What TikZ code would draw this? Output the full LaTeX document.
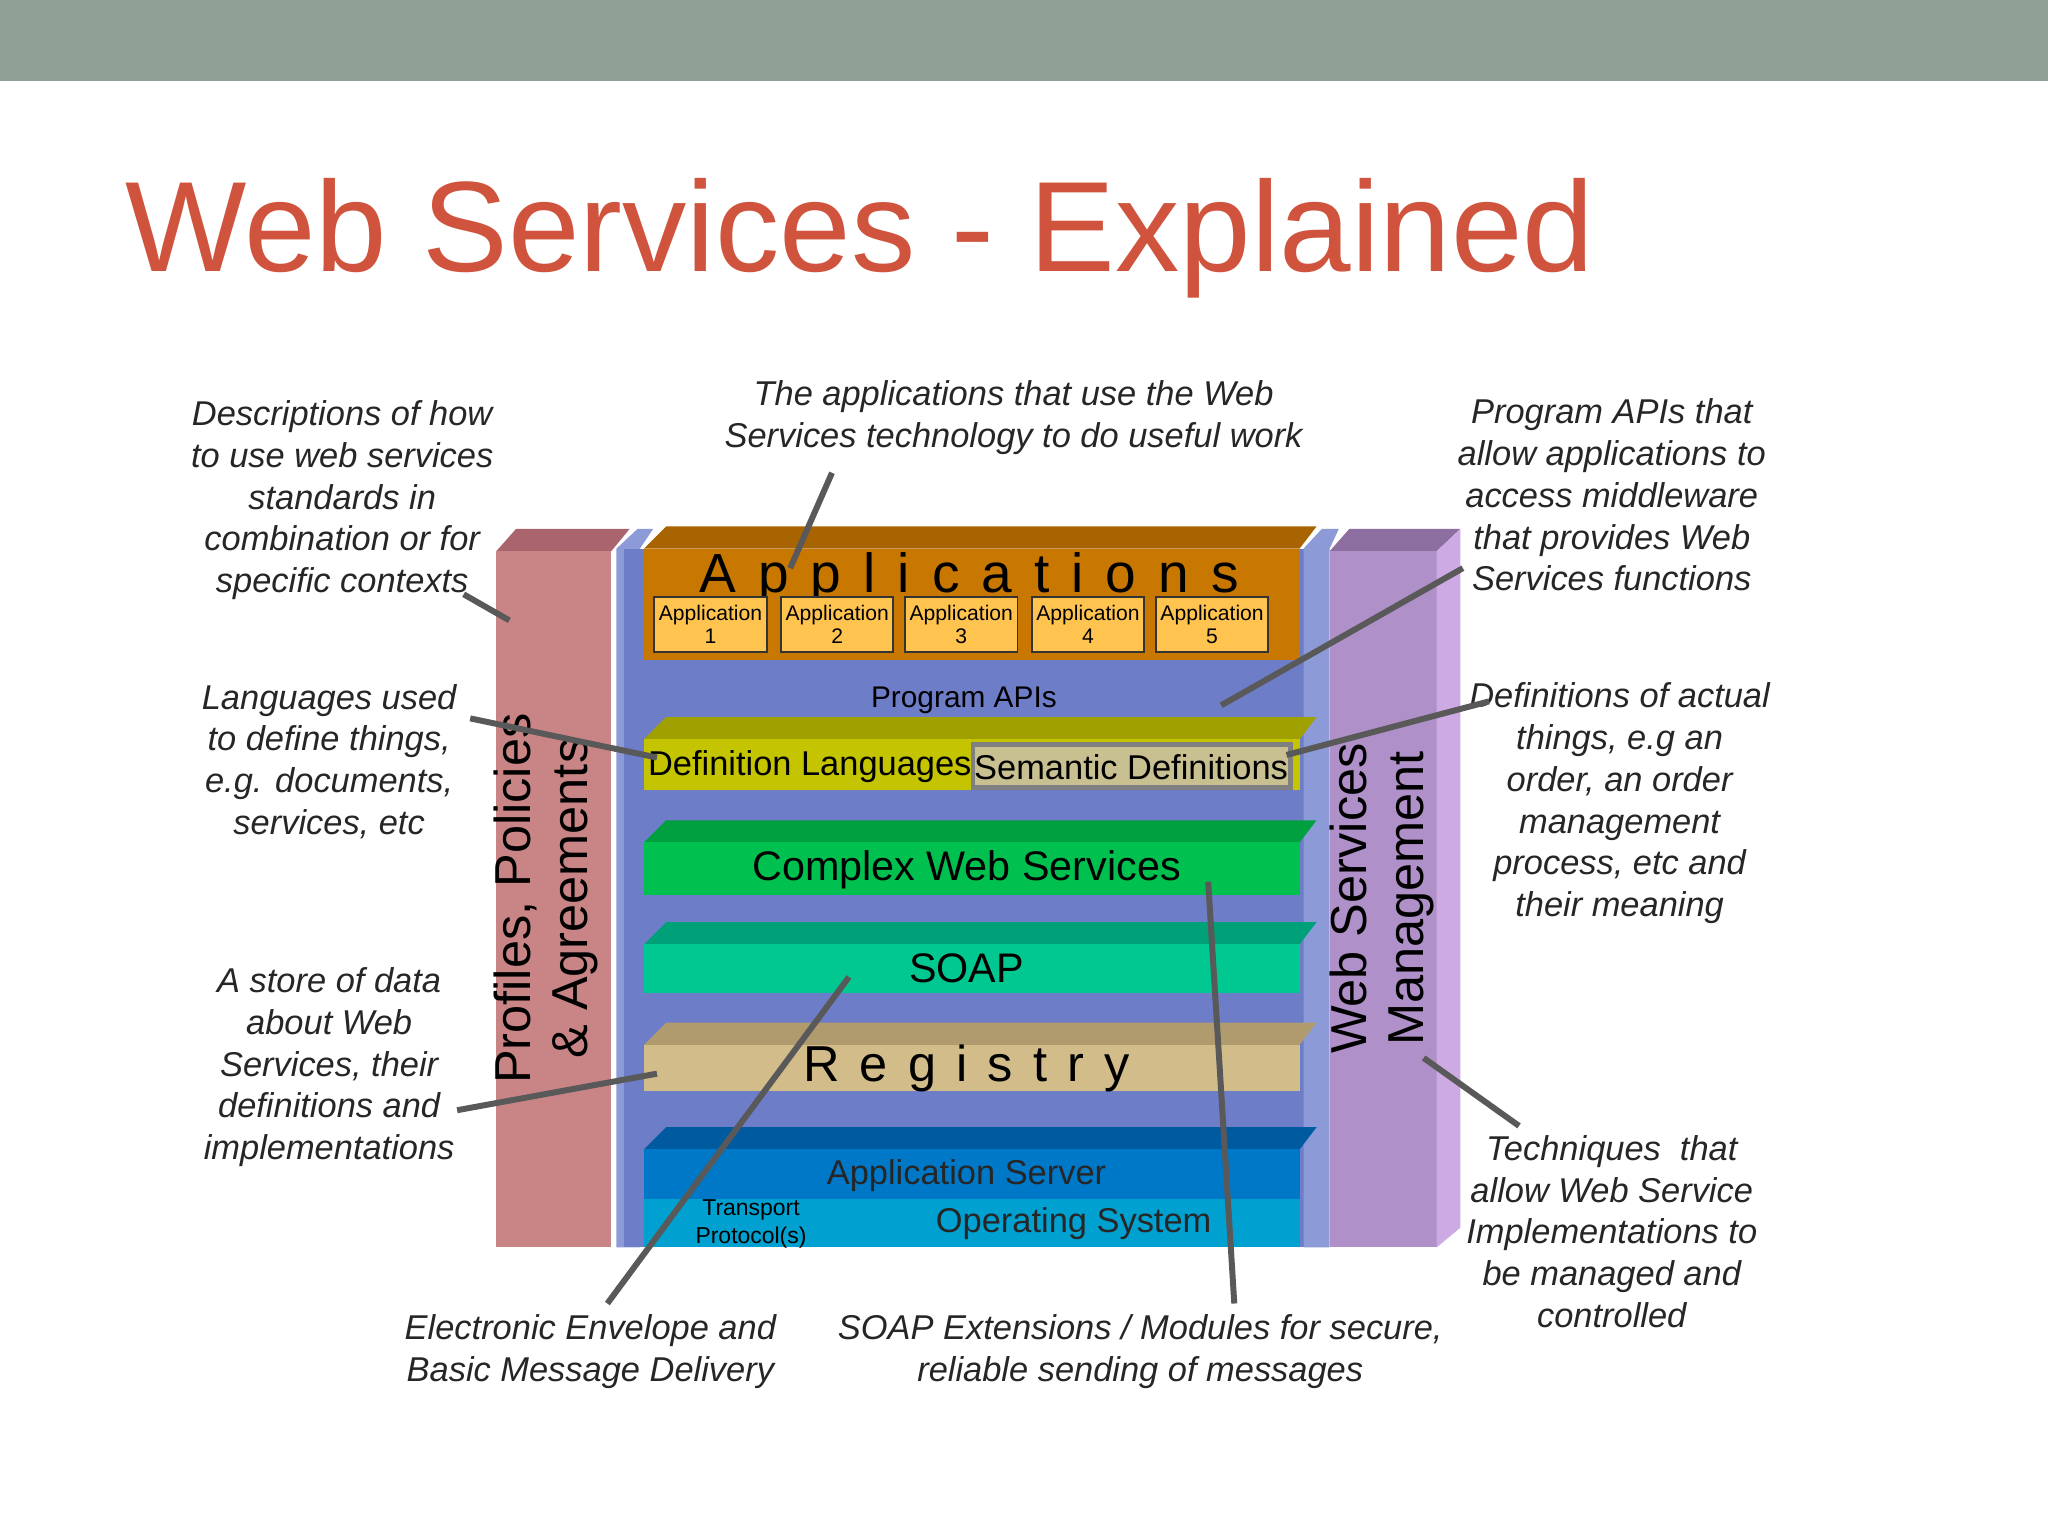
\documentclass[tikz,border=0pt]{standalone}
\usepackage{fontspec}
\setmainfont{Liberation Sans}
\newfontfamily\spaced[LetterSpace=40]{Liberation Sans}
\usetikzlibrary{positioning}
\definecolor{bandgray}{HTML}{8FA197}
\definecolor{titlered}{HTML}{D0543D}
\definecolor{pinktop}{HTML}{AA646E}
\definecolor{pink}{HTML}{C98585}
\definecolor{periwinkle}{HTML}{8C9BD8}
\definecolor{stackblue}{HTML}{6E7DC8}
\definecolor{purpletop}{HTML}{8C6EA0}
\definecolor{purple}{HTML}{B090C8}
\definecolor{lilac}{HTML}{CDAAE4}
\definecolor{appfront}{HTML}{C87800}
\definecolor{apptop}{HTML}{A86400}
\definecolor{deffront}{HTML}{C4C400}
\definecolor{deftop}{HTML}{A0A000}
\definecolor{cwsfront}{HTML}{00C050}
\definecolor{cwstop}{HTML}{00A040}
\definecolor{soapfront}{HTML}{00C890}
\definecolor{soaptop}{HTML}{00A078}
\definecolor{regfront}{HTML}{D2BC8A}
\definecolor{regtop}{HTML}{AF9B6E}
\definecolor{srvfront}{HTML}{0078C8}
\definecolor{srvtop}{HTML}{005AA0}
\definecolor{osfront}{HTML}{00A0D0}
\definecolor{semfill}{HTML}{C8C090}
\definecolor{appfill}{HTML}{FFC450}
\tikzstyle{note} = [align=center, font=\itshape\fontsize{7.5}{9.1}\selectfont, text=black!85]
\tikzstyle{callout} = [draw=black!65, line width=1.3pt]
\tikzstyle{appbox} = [draw=black!80, fill=appfill, minimum width=8.6mm, minimum height=4.2mm, inner sep=0pt, align=center, font=\fontsize{4.6}{5}\selectfont]
\tikzstyle{layertext} = [font=\fontsize{9}{10}\selectfont]

\begin{document}
\begin{tikzpicture}[x=0.1mm, y=-0.1mm]
        \useasboundingbox (0,0) rectangle (1568,1176);
        \fill[white] (0,0) rectangle (1568,1176);
        \fill[bandgray] (0,0) rectangle (1568,62);
        \node (title) [anchor=base west, text=titlered, font=\fontsize{28}{30}\selectfont, inner sep=0pt] at (95,208) {Web Services - Explained};
        % pillars
        \fill[pinktop] (380,422) -- (395,405) -- (482,405) -- (468,422) -- cycle;
        \fill[pink] (380,422) rectangle (468,955);
        \fill[periwinkle] (472,420) -- (488,405) -- (500,405) -- (490,420) -- (490,955) -- (472,955) -- cycle;
        \fill[stackblue] (478,420) rectangle (1000,955);
        \fill[periwinkle] (998,420) -- (1012,405) -- (1025,405) -- (1018,420) -- (1018,955) -- (998,955) -- cycle;
        \fill[purpletop] (1018,422) -- (1033,405) -- (1118,405) -- (1100,422) -- cycle;
        \fill[purple] (1018,422) rectangle (1100,955);
        \fill[lilac] (1100,422) -- (1118,405) -- (1118,940) -- (1100,955) -- cycle;
        \node (ppa) [rotate=90, align=center, font=\fontsize{11}{12.5}\selectfont] at (418,688) {Profiles, Policies\\ \& Agreements};
        \node (wsm) [rotate=90, align=center, font=\fontsize{11}{12.5}\selectfont] at (1058,688) {Web Services\\Management};
        % layers
        \foreach \ya/\yb/\fr/\tp in {420/505/appfront/apptop, 566/605/deffront/deftop,
                                     645/685/cwsfront/cwstop, 723/760/soapfront/soaptop,
                                     800/835/regfront/regtop, 880/918/srvfront/srvtop}{
            \fill[\tp] (493,\ya) -- (510,\ya-17) -- (1008,\ya-17) -- (995,\ya) -- cycle;
            \fill[\fr] (493,\ya) rectangle (995,\yb);
        }
        \fill[osfront] (493,918) rectangle (995,955);
        \fill[semfill, draw=black!50, line width=1pt] (745,570) rectangle (988,603);
        % texts in layers
        \node (apps) [font=\spaced\fontsize{12}{13}\selectfont] at (742,443) {Applications};
        \foreach \i/\x in {1/544, 2/641, 3/736, 4/833, 5/928}
            \node (app\i) [appbox] at (\x,478) {Application\\\i};
        \node (apis) [font=\fontsize{6.5}{7}\selectfont] at (738,536) {Program APIs};
        \node (deflang) [font=\fontsize{7.5}{8}\selectfont] at (620,587) {Definition Languages};
        \node (semdef) [font=\fontsize{7.5}{8}\selectfont] at (866,587) {Semantic Definitions};
        \node (cws) [layertext] at (740,666) {Complex Web Services};
        \node (soap) [layertext] at (740,741) {SOAP};
        \node (reg) [font=\spaced\fontsize{11}{12}\selectfont] at (740,818) {Registry};
        \node (appsrv) [font=\fontsize{7.5}{8}\selectfont, text=black!85] at (740,900) {Application Server};
        \node (tprot) [align=center, font=\fontsize{5}{6}\selectfont] at (575,937) {Transport\\Protocol(s)};
        \node (os) [font=\fontsize{7.5}{8}\selectfont, text=black!85] at (822,937) {Operating System};
        % annotations
        \node (n1) [note] at (262,383) {Descriptions of how\\to use web services\\standards in\\combination or for\\specific contexts};
        \node (n2) [note] at (776,320) {The applications that use the Web\\Services technology to do useful work};
        \node (n3) [note] at (1234,379) {Program APIs that\\allow applications to\\access middleware\\that provides Web\\Services functions};
        \node (n4) [note] at (252,583) {Languages used\\to define things,\\e.g. documents,\\services, etc};
        \node (n5) [note] at (1240,615) {Definitions of actual\\things, e.g an\\order, an order\\management\\process, etc and\\their meaning};
        \node (n6) [note] at (252,817) {A store of data\\about Web\\Services, their\\definitions and\\implementations};
        \node (n7) [note] at (1234,943) {Techniques\ \ that\\allow\ Web Service\\Implementations to\\be managed and\\controlled};
        \node (n8) [note] at (452,1035) {Electronic Envelope and\\Basic Message Delivery};
        \node (n9) [note] at (873,1035) {SOAP Extensions / Modules for secure,\\reliable sending of messages};
        % callout ends
        \coordinate (c1a) at (355,455);  \coordinate (c1b) at (390,475);
        \coordinate (c2a) at (637,362);  \coordinate (c2b) at (605,435);
        \coordinate (c3a) at (1120,435); \coordinate (c3b) at (935,540);
        \coordinate (c4a) at (360,550);  \coordinate (c4b) at (503,580);
        \coordinate (c5a) at (1140,537); \coordinate (c5b) at (985,578);
        \coordinate (c6a) at (350,850);  \coordinate (c6b) at (503,822);
        \coordinate (c7a) at (465,998);  \coordinate (c7b) at (650,748);
        \coordinate (c8a) at (945,998);  \coordinate (c8b) at (925,675);
        \coordinate (c9a) at (1163,862); \coordinate (c9b) at (1090,810);
        \foreach \k in {1,...,9}
            \draw [callout] (c\k a) -- (c\k b);
    \end{tikzpicture}
\end{document}
